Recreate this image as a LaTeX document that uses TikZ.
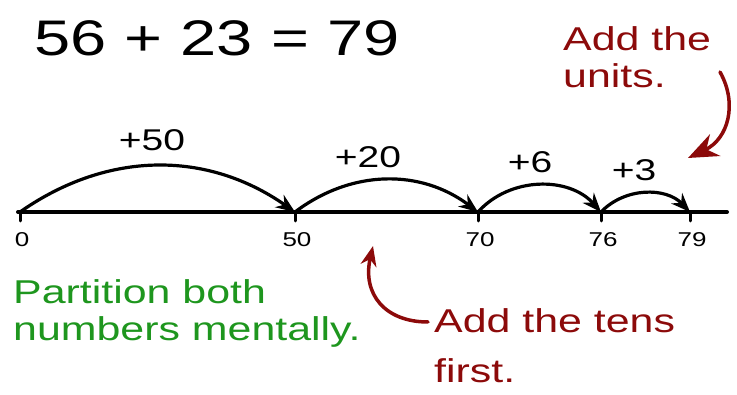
\documentclass[tikz,border=0pt]{standalone}
\usepackage{fontspec}
\setmainfont{Liberation Sans}[FakeStretch=1.3]
\usetikzlibrary{arrows.meta}
\definecolor{penred}{RGB}{140,10,10}
\definecolor{pengreen}{RGB}{30,150,30}
\tikzset{
  jump/.style={line width=3.2pt,-{Stealth[length=19pt,width=15pt]}},
  redarrow/.style={penred,line width=3.5pt},
  tickmark/.style={line width=3pt},
  numlbl/.style={font=\fontsize{20}{22}\selectfont},
  steplbl/.style={font=\fontsize{30}{32}\selectfont},
  note/.style={align=left,anchor=west,inner sep=0pt,font=\fontsize{33}{37}\selectfont},
}
\begin{document}
\begin{tikzpicture}[x=1pt,y=1pt,line cap=round,line join=round]
	\useasboundingbox (0,0) rectangle (737,394);
	\node (sum) at (217,356) {\fontsize{50}{54}\selectfont 56 + 23 = 79};
	% number line
	\coordinate (lineL) at (18,182);
	\coordinate (lineR) at (727,182);
	\draw[line width=4pt] (lineL) -- (lineR);
	\foreach \n/\x in {0/20,50/295,70/478,76/601,79/690}{
		\coordinate (p\n) at (\x,182);
		\draw[tickmark] (p\n) -- ++(0,-9);
		\node[numlbl] (l\n) at (\x+2,154) {\n};
	}
	% jumps
	\draw[jump] (p0) to[bend left=35] (p50);
	\draw[jump] (p50) to[bend left=37] (p70);
	\draw[jump] (p70) to[bend left=48] (p76);
	\draw[jump] (p76) to[bend left=46] (p79);
	\node[steplbl] (j50) at (152,254) {+50};
	\node[steplbl] (j20) at (368,237) {+20};
	\node[steplbl] (j6) at (530,232) {+6};
	\node[steplbl] (j3) at (634,224) {+3};
	% notes
	\node[note,text=penred] (units) at (563,337) {Add the\\units.};
	\node[note,text=pengreen] (partition) at (13,81) {Partition both\\numbers mentally.};
	\node[note,text=penred] (tens) at (434,48) {Add the tens\\[13pt]first.};
	\coordinate (unitsStart) at (720,322);
	\coordinate (unitsTip) at (688,236);
	\coordinate (tensStart) at (428,72);
	\coordinate (tensTip) at (373,148);
	\draw[redarrow,-{Stealth[length=30pt,width=24pt]}] (unitsStart) .. controls (738,290) and (728,255) .. (unitsTip);
	\draw[redarrow,-{Stealth[length=20pt,width=16pt]}] (tensStart) .. controls (385,72) and (362,100) .. (tensTip);
\end{tikzpicture}
\end{document}
